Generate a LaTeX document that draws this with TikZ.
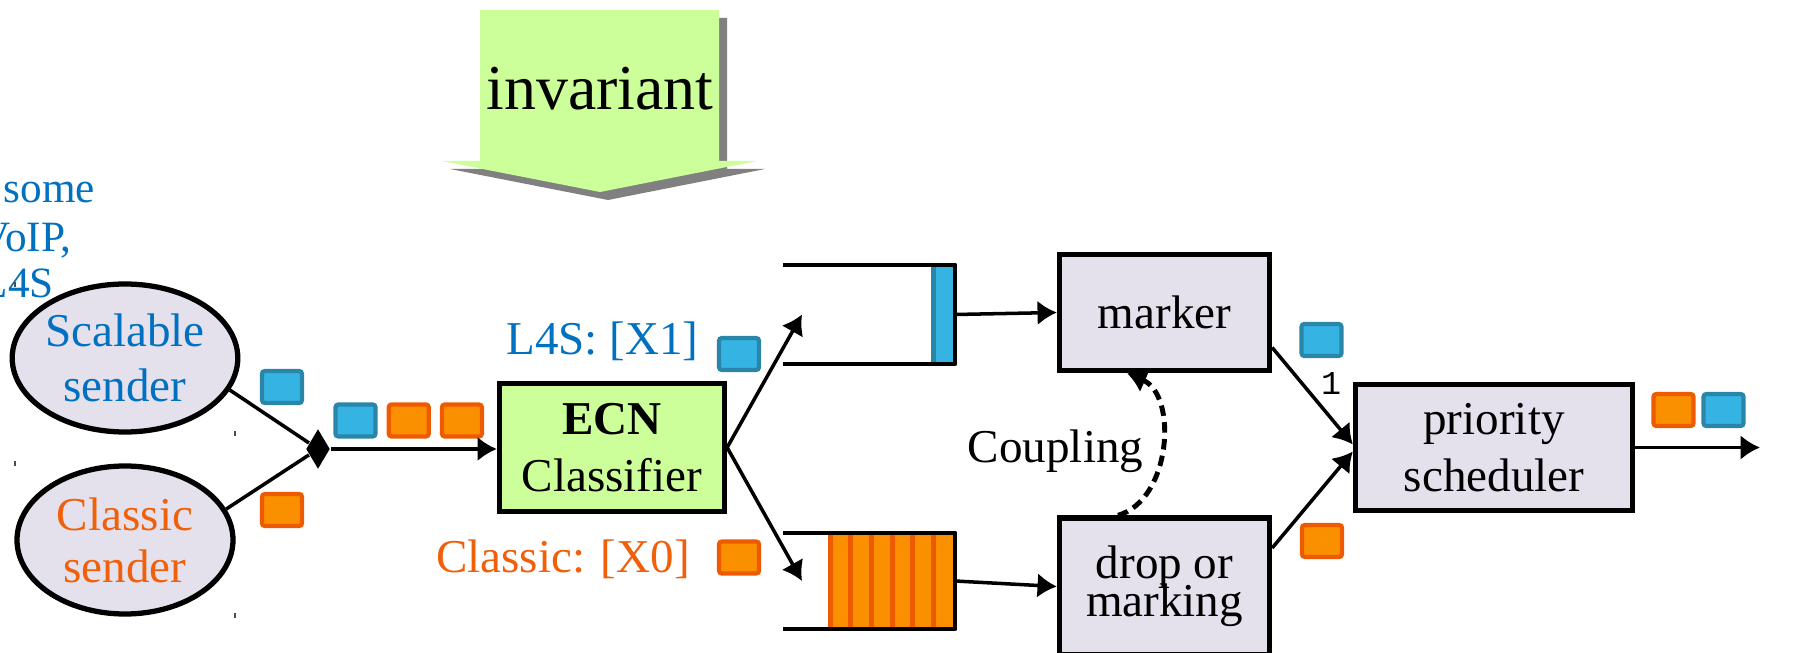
\documentclass[tikz,border=0pt]{standalone}
\usepackage{fontspec}
\setmainfont{Liberation Serif}
\newfontfamily\numfont{Liberation Mono}
\usepackage{tikz}
\usetikzlibrary{arrows.meta,positioning,shapes.geometric}
\definecolor{lav}{HTML}{E4E0EC}
\definecolor{ecngreen}{HTML}{CCFF99}
\definecolor{lsblue}{HTML}{0070C0}
\definecolor{clorange}{HTML}{F0600A}
\definecolor{pktb}{HTML}{35B4E4}
\definecolor{pktbd}{HTML}{2986A8}
\definecolor{pkto}{HTML}{FA8F00}
\definecolor{pktod}{HTML}{EE5A00}
\newcommand{\fsz}[2]{\fontsize{#1}{#2}\selectfont}

\begin{document}
\begin{tikzpicture}[font=\fsz{13.4pt}{16pt}, >={Latex[length=5.5pt,width=7pt]},
  box/.style={draw, line width=1.5pt, fill=lav, align=center, inner sep=0pt},
  sender/.style={box, ellipse, minimum width=2.16cm, minimum height=1.48cm},
  pb/.style={draw=pktbd, fill=pktb, line width=1.2pt, rounded corners=0.8pt,
    minimum width=0.40cm, minimum height=0.32cm, inner sep=0pt},
  po/.style={pb, draw=pktod, fill=pkto},
  queue/.style={minimum width=1.72cm, inner sep=0pt, outer sep=0pt},
  qline/.style={line width=1.4pt, line join=round},
  link/.style={line width=1pt},
  note/.style={text=lsblue, anchor=base west, inner sep=0pt, font=\fsz{12.3pt}{13.7pt}}]
\useasboundingbox (0,0) rectangle (18.02,-6.53);

% invariant arrow with its shadow
\fill[gray, shift={(0.08,-0.08)}] (4.80,-0.10) -- (7.19,-0.10) -- (7.19,-1.61) -- (7.57,-1.61)
  -- (6.00,-1.92) -- (4.42,-1.61) -- (4.80,-1.61) -- cycle;
\fill[ecngreen] (4.80,-0.10) -- (7.19,-0.10) -- (7.19,-1.61) -- (7.57,-1.61)
  -- (6.00,-1.92) -- (4.42,-1.61) -- (4.80,-1.61) -- cycle;
\node[font=\fsz{18.2pt}{20pt}, anchor=base] (inv) at (6.00,-1.10) {invariant};

% senders
\node[note] (some) at (0.03,-2.03) {some};
\node[note] (voip) at (-0.21,-2.52) {VoIP,};
\node[note] (l4s) at (-0.19,-2.98) {L4S};
\node[sender, text=lsblue, font=\fsz{13.4pt}{15.6pt}] (scal) at (1.25,-3.58) {Scalable\\sender};
\node[sender, text=clorange, font=\fsz{13.4pt}{14.8pt}] (clas) at (1.25,-5.40) {Classic\\sender};
\draw[gray!60!black, line width=0.3pt] (0.15,-2.82) -- ++(0,-0.05) (2.35,-4.31) -- ++(0,-0.05)
  (0.15,-4.61) -- ++(0,-0.05) (2.35,-6.13) -- ++(0,-0.05);
\node[pb] (p1) at (2.82,-3.87) {};
\node[po] (p2) at (2.82,-5.10) {};
\node[diamond, fill, inner sep=0pt, minimum width=0.24cm, minimum height=0.40cm] (join) at (3.18,-4.49) {};
\draw[link] (scal.-17) -- (join);
\draw[link] (clas.17) -- (join);

% mixed packets and classifier
\node[pb] (p3) at (3.555,-4.205) {};
\node[po, right=0.09cm of p3] (p4) {};
\node[po, right=0.09cm of p4] (p5) {};
\node[box, fill=ecngreen, minimum width=2.25cm, minimum height=1.28cm, font=\fsz{13.4pt}{16.2pt}] (ecn) at (6.12,-4.475) {\textbf{ECN}\\Classifier};
\draw[link,->] (join.east) -- (join.east -| ecn.west);
\node[text=lsblue, anchor=base] (l4stxt) at (6.025,-3.55) {L4S: [X1]};
\node[pb] (p6) at (7.39,-3.54) {};
\node[text=clorange, anchor=base] (cltxt) at (5.63,-5.72) {Classic: [X0]};
\node[po] (p7) at (7.39,-5.575) {};

% queues
\node[queue, minimum height=0.99cm] (q4s) at (8.69,-3.145) {};
\node[queue, minimum height=0.96cm] (qcl) at (8.69,-5.81) {};
\fill[pktb] ([xshift=-0.24cm]q4s.north east) rectangle (q4s.south east);
\draw[pktbd, line width=0.05cm] ([xshift=-0.215cm]q4s.north east) -- ([xshift=-0.215cm]q4s.south east);
\fill[pkto] ([xshift=-1.27cm]qcl.north east) rectangle (qcl.south east);
\draw[pktod, line width=0.05cm] (8.30,-5.33) -- (8.30,-6.29) (8.505,-5.33) -- (8.505,-6.29)
  (8.715,-5.33) -- (8.715,-6.29) (8.92,-5.33) -- (8.92,-6.29)
  (9.125,-5.33) -- (9.125,-6.29) (9.33,-5.33) -- (9.33,-6.29);
\draw[qline] (q4s.north west) -- (q4s.north east) -- (q4s.south east) -- (q4s.south west);
\draw[qline] (qcl.north west) -- (qcl.north east) -- (qcl.south east) -- (qcl.south west);
\draw[link,->] (ecn.east) -- ([xshift=0.19cm]q4s.west);
\draw[link,->] (ecn.east) -- ([xshift=0.19cm]qcl.west);

% AQMs and scheduler
\node[box, minimum width=2.10cm, minimum height=1.16cm] (marker) at (11.645,-3.125) {marker};
\node[box, minimum width=2.10cm, minimum height=1.37cm] (drop) at (11.645,-5.865) {drop or\\[-5.2pt]marking};
\node[box, minimum width=2.77cm, minimum height=1.26cm, font=\fsz{13.4pt}{16.2pt}] (sched) at (14.94,-4.475) {priority\\scheduler};
\draw[link,->] (q4s.east) -- (marker.west);
\draw[link,->] (qcl.east) -- (drop.west);
\draw[line width=1.4pt, dash pattern=on 3pt off 1.8pt, ->] ([xshift=-0.465cm]drop.north)
  to[bend right=70] ([xshift=-0.375cm]marker.south);
\node[anchor=base] (coupl) at (10.555,-4.62) {Coupling};
\draw[link,->] ([yshift=-0.35cm]marker.east) -- node[pos=0.54, above right, inner sep=1pt,
  font=\numfont\fsz{9.5pt}{11pt}] (one) {1} ([yshift=0.03cm]sched.west);
\draw[link,->] ([yshift=0.385cm]drop.east) -- ([yshift=-0.04cm]sched.west);
\node[pb] (p8) at (13.215,-3.40) {};
\node[po] (p9) at (13.22,-5.41) {};
\coordinate (outEnd) at (17.60,-4.475);
\draw[link,->] (sched.east) -- (outEnd);
\node[po] (p10) at (16.735,-4.10) {};
\node[pb] (p11) at (17.235,-4.10) {};
\end{tikzpicture}
\end{document}
